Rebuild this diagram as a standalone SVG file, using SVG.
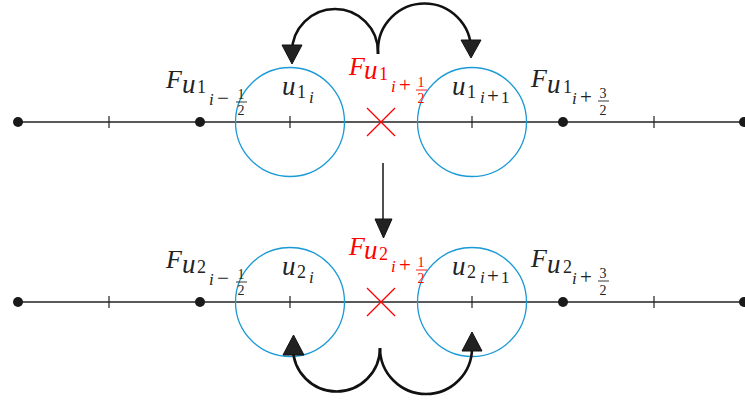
<svg xmlns="http://www.w3.org/2000/svg" width="745" height="403" viewBox="0 0 745 403" font-family="'Liberation Serif', 'DejaVu Serif', serif">
<style>
.axis{stroke:#222;stroke-width:1.3;fill:none}
.tick{stroke:#222;stroke-width:1.2}
.dot{fill:#1a1a1a}
.cell{fill:none;stroke:#1b9ad6;stroke-width:1.3}
.cross{stroke:#ff0000;stroke-width:1.3}
.arc{fill:none;stroke:#111;stroke-width:2.6}
.head{fill:#222;stroke:#111;stroke-width:1}
.arr{stroke:#222;stroke-width:1.6}
text{fill:#222}
.F{font-size:26px;font-style:italic}
.u{font-size:27px;font-style:italic}
.n{font-size:18px}
.i{font-size:17px;font-style:italic}
.op{font-size:21px}
.d{font-size:17px}
.fr{font-size:14px;text-anchor:middle}
.red{fill:#ff0000}
.bar{stroke:#222;stroke-width:0.9}
.rbar{stroke:#ff0000;stroke-width:0.9}
</style>

<g id="row1">
  <line class="axis" x1="18" y1="122" x2="745" y2="122"/>
  <line class="tick" x1="109" y1="116" x2="109" y2="128"/>
  <line class="tick" x1="290" y1="116" x2="290" y2="128"/>
  <line class="tick" x1="472" y1="116" x2="472" y2="128"/>
  <line class="tick" x1="654" y1="116" x2="654" y2="128"/>
  <circle class="dot" cx="18" cy="122" r="5"/>
  <circle class="dot" cx="200" cy="122" r="5"/>
  <circle class="dot" cx="563" cy="122" r="5"/>
  <circle class="dot" cx="744" cy="122" r="5"/>
</g>
<g id="cell1_i"><circle class="cell" cx="290" cy="122" r="54.5"/>
  <text class="u" x="282" y="95">u</text><text class="n" x="297" y="98">1</text><text class="i" x="309" y="103">i</text>
</g>
<g id="cell1_ip1"><circle class="cell" cx="472" cy="122" r="54.5"/>
  <text class="u" x="452" y="95">u</text><text class="n" x="467" y="98">1</text><text class="i" x="480" y="103">i</text><text class="op" x="487" y="103">+</text><text class="d" x="501" y="103">1</text>
</g>
<g id="flux1_im"><text class="F" x="166" y="88">F</text><text class="u" x="182" y="93">u</text><text class="n" x="197" y="93">1</text>
  <text class="i" x="209" y="105">i</text><text class="op" x="217" y="105">−</text>
  <text class="fr" x="241" y="99">1</text><line class="bar" x1="236" y1="102" x2="247" y2="102"/><text class="fr" x="241" y="115">2</text>
</g>
<g id="flux1_ip"><text class="F red" x="349" y="75">F</text><text class="u red" x="364" y="79">u</text><text class="n red" x="379" y="80">1</text>
  <text class="i red" x="391" y="92">i</text><text class="op red" x="399" y="92">+</text>
  <text class="fr red" x="421" y="87">1</text><line class="rbar" x1="416" y1="90" x2="427" y2="90"/><text class="fr red" x="421" y="103">2</text>
  <line class="cross" x1="367" y1="108" x2="395" y2="136"/><line class="cross" x1="395" y1="108" x2="367" y2="136"/>
</g>
<g id="flux1_ipp"><text class="F" x="531" y="87">F</text><text class="u" x="547" y="93">u</text><text class="n" x="563" y="93">1</text>
  <text class="i" x="572" y="104">i</text><text class="op" x="580" y="104">+</text>
  <text class="fr" x="603" y="98">3</text><line class="bar" x1="598" y1="101" x2="609" y2="101"/><text class="fr" x="603" y="115">2</text>
</g>

<g id="row2">
  <line class="axis" x1="18" y1="302" x2="745" y2="302"/>
  <line class="tick" x1="109" y1="296" x2="109" y2="308"/>
  <line class="tick" x1="290" y1="296" x2="290" y2="308"/>
  <line class="tick" x1="472" y1="296" x2="472" y2="308"/>
  <line class="tick" x1="654" y1="296" x2="654" y2="308"/>
  <circle class="dot" cx="18" cy="302" r="5"/>
  <circle class="dot" cx="200" cy="302" r="5"/>
  <circle class="dot" cx="563" cy="302" r="5"/>
  <circle class="dot" cx="744" cy="302" r="5"/>
</g>
<g id="cell2_i"><circle class="cell" cx="290" cy="302" r="54.5"/>
  <text class="u" x="282" y="275">u</text><text class="n" x="297" y="278">2</text><text class="i" x="309" y="283">i</text>
</g>
<g id="cell2_ip1"><circle class="cell" cx="472" cy="302" r="54.5"/>
  <text class="u" x="452" y="275">u</text><text class="n" x="467" y="278">2</text><text class="i" x="480" y="283">i</text><text class="op" x="487" y="283">+</text><text class="d" x="501" y="283">1</text>
</g>
<g id="flux2_im"><text class="F" x="166" y="268">F</text><text class="u" x="182" y="273">u</text><text class="n" x="197" y="273">2</text>
  <text class="i" x="209" y="285">i</text><text class="op" x="217" y="285">−</text>
  <text class="fr" x="241" y="279">1</text><line class="bar" x1="236" y1="282" x2="247" y2="282"/><text class="fr" x="241" y="295">2</text>
</g>
<g id="flux2_ip"><text class="F red" x="349" y="255">F</text><text class="u red" x="364" y="259">u</text><text class="n red" x="379" y="260">2</text>
  <text class="i red" x="391" y="272">i</text><text class="op red" x="399" y="272">+</text>
  <text class="fr red" x="421" y="267">1</text><line class="rbar" x1="416" y1="270" x2="427" y2="270"/><text class="fr red" x="421" y="283">2</text>
  <line class="cross" x1="367" y1="288" x2="395" y2="316"/><line class="cross" x1="395" y1="288" x2="367" y2="316"/>
</g>
<g id="flux2_ipp"><text class="F" x="531" y="267">F</text><text class="u" x="547" y="273">u</text><text class="n" x="563" y="273">2</text>
  <text class="i" x="572" y="284">i</text><text class="op" x="580" y="284">+</text>
  <text class="fr" x="603" y="278">3</text><line class="bar" x1="598" y1="281" x2="609" y2="281"/><text class="fr" x="603" y="295">2</text>
</g>

<g id="connectors">
  <path class="arc" d="M378 54 L378 52 A43 43 0 0 0 292 52 L292 48"/>
  <polygon class="head" points="282,45 302,45 292,64"/>
  <path class="arc" d="M378 54 L378 50 A46.5 46.5 0 0 1 471 50 L471 44"/>
  <polygon class="head" points="461,40 481,40 471,58"/>
  <line class="arr" x1="383" y1="163" x2="383" y2="222"/>
  <polygon class="head" points="375,219 392,219 383.5,238"/>
  <path class="arc" d="M380 351 L380 348 A43.5 43.5 0 0 1 293 348 L293 352"/>
  <polygon class="head" points="283,355 304,355 293.5,335"/>
  <path class="arc" d="M380 351 L380 348 A46 46 0 0 0 472 348 L472 348"/>
  <polygon class="head" points="462,351 482,351 472,332"/>
</g>
</svg>
